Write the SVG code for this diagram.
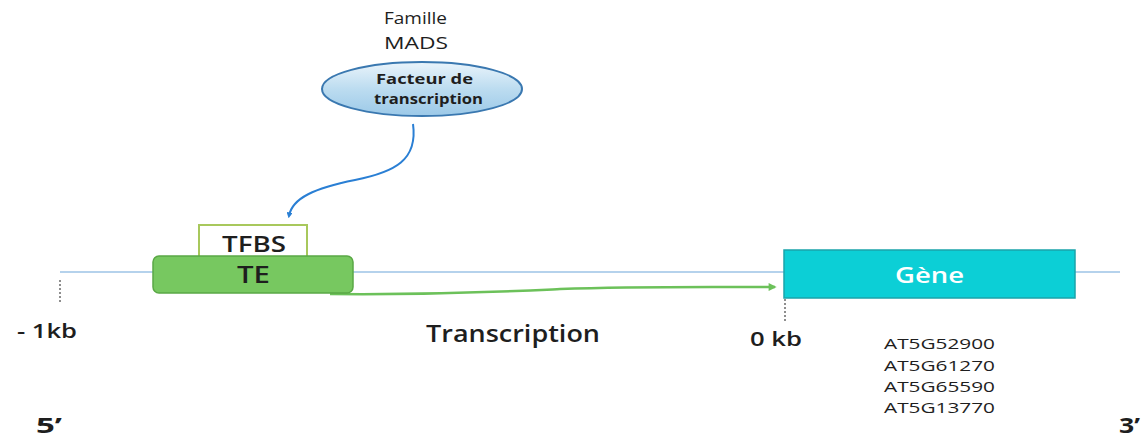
<svg xmlns="http://www.w3.org/2000/svg" width="1145" height="438" viewBox="0 0 1145 438">
  <defs>
    <linearGradient id="tfGrad" x1="0" y1="0" x2="0" y2="1">
      <stop offset="0" stop-color="#eaf4fb"/>
      <stop offset="0.5" stop-color="#bcdcf0"/>
      <stop offset="1" stop-color="#9cc9e8"/>
    </linearGradient>
    <marker id="blueHead" viewBox="0 0 10 10" refX="6" refY="5" markerWidth="6" markerHeight="6" orient="auto" markerUnits="userSpaceOnUse">
      <path d="M0,0 L10,5 L0,10 z" fill="#2a7fd4"/>
    </marker>
    <marker id="greenHead" viewBox="0 0 10 10" refX="8" refY="5" markerWidth="10" markerHeight="8" orient="auto" markerUnits="userSpaceOnUse">
      <path d="M0,0 L10,5 L0,10 z" fill="#6cc15a"/>
    </marker>
  </defs>
  <style>
    .lbl { font-family: "Open Sans", "Liberation Sans", sans-serif; fill: #1e1e1e; font-weight: normal; }
    .semi { font-weight: 600; }
    .bold { font-weight: bold; }
    .dot { stroke: #444; stroke-width: 1.2; stroke-dasharray: 2 2; fill: none; }
  </style>
  <rect width="1145" height="438" fill="#ffffff"/>

  <!-- DNA strand -->
  <line x1="60" y1="272" x2="1120" y2="272" stroke="#9dc3e6" stroke-width="1.5"/>

  <!-- connectors -->
  <g id="connectors">
    <path d="M413,124 C418,160 395,172 355,180 C315,188 292,198 289,216" fill="none" stroke="#2a7fd4" stroke-width="2" marker-end="url(#blueHead)"/>
    <path d="M330,294 C450,295 520,291 560,289 C640,286 720,287 775,287" fill="none" stroke="#6cc15a" stroke-width="2.5" marker-end="url(#greenHead)"/>
    <line class="dot" x1="60" y1="280" x2="60" y2="302"/>
    <line class="dot" x1="785" y1="299" x2="785" y2="323"/>
  </g>

  <g id="famille">
    <text class="lbl" x="384" y="24" font-size="17" textLength="63" lengthAdjust="spacingAndGlyphs">Famille</text>
    <text class="lbl" x="384" y="49" font-size="17" textLength="64" lengthAdjust="spacingAndGlyphs">MADS</text>
  </g>

  <g id="facteur">
    <ellipse cx="422" cy="89" rx="100" ry="27" fill="url(#tfGrad)" stroke="#3a78b0" stroke-width="2"/>
    <text class="lbl bold" x="376" y="84" font-size="14" textLength="97" lengthAdjust="spacingAndGlyphs">Facteur de</text>
    <text class="lbl bold" x="374" y="104" font-size="14" textLength="109" lengthAdjust="spacingAndGlyphs">transcription</text>
  </g>

  <g id="tfbs">
    <rect x="199" y="225" width="108" height="34" fill="#ffffff" stroke="#a8c85c" stroke-width="2"/>
    <text class="lbl semi" x="222" y="252" font-size="22" textLength="64" lengthAdjust="spacingAndGlyphs">TFBS</text>
  </g>

  <g id="te">
    <rect x="153" y="256" width="200" height="37" rx="6" fill="#77c860" stroke="#5aa845" stroke-width="1.5"/>
    <text class="lbl semi" x="237" y="283" font-size="23" textLength="33" lengthAdjust="spacingAndGlyphs">TE</text>
  </g>

  <g id="gene">
    <rect x="784" y="250" width="291" height="48" fill="#0ccfd6" stroke="#1aa4aa" stroke-width="1.5"/>
    <text x="895" y="283" font-size="22" font-weight="600" font-family="Open Sans, Liberation Sans, sans-serif" fill="#ffffff" textLength="69" lengthAdjust="spacingAndGlyphs">Gène</text>
  </g>

  <g id="labels">
    <text class="lbl semi" x="17" y="338" font-size="20" textLength="60" lengthAdjust="spacingAndGlyphs">- 1kb</text>
    <text class="lbl semi" x="426" y="342" font-size="23" textLength="174" lengthAdjust="spacingAndGlyphs">Transcription</text>
    <text class="lbl semi" x="750" y="346" font-size="19" textLength="52" lengthAdjust="spacingAndGlyphs">0 kb</text>
    <text class="lbl" x="884" y="349" font-size="15" textLength="111" lengthAdjust="spacingAndGlyphs">AT5G52900</text>
    <text class="lbl" x="884" y="371" font-size="15" textLength="111" lengthAdjust="spacingAndGlyphs">AT5G61270</text>
    <text class="lbl" x="884" y="392" font-size="15" textLength="111" lengthAdjust="spacingAndGlyphs">AT5G65590</text>
    <text class="lbl" x="884" y="413" font-size="15" textLength="111" lengthAdjust="spacingAndGlyphs">AT5G13770</text>
    <text class="lbl bold" x="36" y="433" font-size="21" textLength="26" lengthAdjust="spacingAndGlyphs">5’</text>
    <text class="lbl bold" x="1119" y="433" font-size="21" textLength="21" lengthAdjust="spacingAndGlyphs">3’</text>
  </g>
</svg>
